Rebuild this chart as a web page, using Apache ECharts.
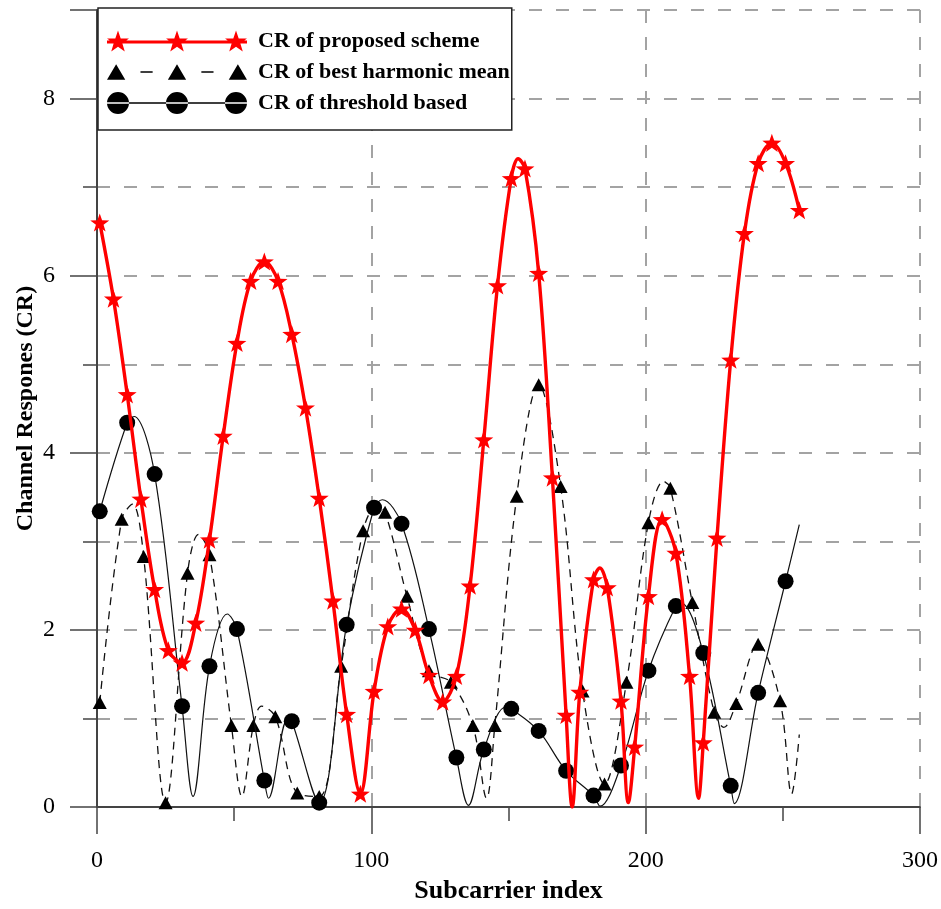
<!DOCTYPE html>
<html>
<head>
<meta charset="utf-8">
<title>Channel response</title>
<script src="https://cdn.jsdelivr.net/npm/echarts@6/dist/echarts.min.js"></script>
<style>
  html, body { margin: 0; padding: 0; background: #fff; }
  #chart { width: 941px; height: 909px; }
</style>
</head>
<body>
<div id="chart"></div>
<script>
// CR of proposed scheme: star markers, plus the bends between them
const proposedX = [1, 6, 11, 16, 21, 26, 31, 36, 41, 46, 51, 56, 61, 66, 71, 76, 81, 86, 91, 96,
  101, 106, 111, 116, 121, 126, 131, 136, 141, 146, 151, 156, 161, 166, 171, 176, 181, 186, 191, 196,
  201, 206, 211, 216, 221, 226, 231, 236, 241, 246, 251, 256];
const proposedY = [6.60, 5.74, 4.66, 3.48, 2.46, 1.77, 1.63, 2.08, 3.02, 4.19, 5.24, 5.94, 6.16, 5.94, 5.34, 4.51, 3.49, 2.33, 1.05, 0.15,
  1.31, 2.04, 2.24, 2.00, 1.49, 1.19, 1.48, 2.50, 4.15, 5.89, 7.10, 7.21, 6.03, 3.72, 1.04, 1.30, 2.57, 2.48, 1.20, 0.68,
  2.38, 3.25, 2.87, 1.48, 0.73, 3.04, 5.05, 6.48, 7.27, 7.50, 7.27, 6.74];
const proposedBendX = [153.5, 173.2, 183.3, 193.7, 219.3];
const proposedBendY = [7.32, 0.0, 2.70, 0.05, 0.10];

// CR of best harmonic mean: triangle markers
const harmonicX = [1, 9, 17, 25, 33, 41, 49, 57, 65, 73, 81, 89, 97, 105, 113, 121, 129, 137, 145, 153,
  161, 169, 177, 185, 193, 201, 209, 217, 225, 233, 241, 249];
const harmonicY = [1.18, 3.25, 2.83, 0.05, 2.64, 2.85, 0.92, 0.92, 1.02, 0.16, 0.12, 1.59, 3.12, 3.33, 2.38, 1.54, 1.41, 0.92, 0.92, 3.51,
  4.77, 3.62, 1.31, 0.26, 1.41, 3.21, 3.60, 2.31, 1.07, 1.17, 1.84, 1.20];
const harmonicBendX = [13, 37, 52.8, 60, 102, 142, 206.5, 228.5, 253.2, 256];
const harmonicBendY = [3.42, 3.08, 0.12, 1.14, 3.40, 0.10, 3.68, 0.90, 0.15, 0.82];

// CR of threshold based: circle markers
const thresholdX = [1, 11, 21, 31, 41, 51, 61, 71, 81, 91, 101, 111, 121, 131, 141, 151, 161, 171, 181, 191,
  201, 211, 221, 231, 241, 251];
const thresholdY = [3.34, 4.34, 3.76, 1.14, 1.59, 2.01, 0.30, 0.97, 0.05, 2.06, 3.38, 3.20, 2.01, 0.56, 0.65, 1.11, 0.86, 0.41, 0.13, 0.47,
  1.54, 2.27, 1.74, 0.24, 1.29, 2.55];
const thresholdBendX = [13.5, 35, 47.5, 62.5, 69.5, 104, 135.4, 149, 183.4, 213, 232.3, 256];
const thresholdBendY = [4.41, 0.12, 2.18, 0.10, 1.00, 3.47, 0.02, 1.13, 0.01, 2.30, 0.04, 3.19];

const seriesNames = ['CR of proposed scheme', 'CR of best harmonic mean', 'CR of threshold based'];
const xTicks = { min: 0, max: 300, step: 100 };
const yTicks = { min: 0, max: 9, step: 2 };

(function() {
  const SERIF = 'Liberation Serif, Times New Roman, serif';
  const GRID_LINE = { color: '#a3a3a3', width: 2, type: [13, 14] };
  const AXIS_COLOR = '#444';

  function starPath(cx, cy, R, r) {
    let d = '';
    for (let k = 0; k < 10; k++) {
      const rad = k % 2 ? r : R;
      const a = -Math.PI / 2 + k * Math.PI / 5;
      d += (k ? 'L' : 'M') + (cx + rad * Math.cos(a)).toFixed(2) + ' ' + (cy + rad * Math.sin(a)).toFixed(2);
    }
    return d + 'Z';
  }

  function trianglePath(cx, cy, s) {
    const h = s * 0.85;
    return 'M' + (cx - s / 2) + ' ' + (cy + h / 2) + 'L' + (cx + s / 2) + ' ' + (cy + h / 2) +
      'L' + cx + ' ' + (cy - h / 2) + 'Z';
  }

  function circlePath(cx, cy, r) {
    return 'M' + (cx - r) + ' ' + cy + 'A' + r + ' ' + r + ' 0 1 0 ' + (cx + r) + ' ' + cy +
      'A' + r + ' ' + r + ' 0 1 0 ' + (cx - r) + ' ' + cy + 'Z';
  }

  const STAR = 'path://' + starPath(10, 10, 10, 4);

  const legendIcons = [
    'path://M0 10.5L140 10.5L140 13.5L0 13.5Z' + starPath(11, 12, 11.5, 4.6) + starPath(70, 12, 11.5, 4.6) + starPath(129, 12, 11.5, 4.6),
    'path://' + trianglePath(10, 12, 18) + 'M34 11.2L46 11.2L46 12.8L34 12.8Z' + trianglePath(70, 12, 18) +
      'M94 11.2L106 11.2L106 12.8L94 12.8Z' + trianglePath(130, 12, 18),
    'path://M0 11.3L140 11.3L140 12.7L0 12.7Z' + circlePath(11, 12, 11) + circlePath(70, 12, 11) + circlePath(129, 12, 11)
  ];

  function buildPoints(markX, markY, bendX, bendY) {
    const pts = markX.map((x, i) => ({ value: [x, markY[i]] }));
    bendX.forEach((x, i) => pts.push({ value: [x, bendY[i]], symbol: 'none' }));
    return pts.sort((a, b) => a.value[0] - b.value[0]);
  }

  class ChannelResponseChart {
    constructor(selector) {
      this.container = document.querySelector(selector);
      if (!this.container) {
        console.error(`container "${selector}" not found`);
        return;
      }
      this.chart = echarts.init(this.container, null, { renderer: 'canvas' });
      this.initChart();
      this.bindEvents();
    }

    get baseOption() {
      return {
        animation: false,
        backgroundColor: '#fff',
        grid: { left: 97, right: 21, top: 10, bottom: 101 },
        legend: {
          data: seriesNames.map((name, i) => ({ name, icon: legendIcons[i] })),
          orient: 'vertical',
          left: 98,
          top: 8,
          itemWidth: 140,
          itemHeight: 24,
          itemGap: 9,
          padding: [22, 2, 16, 9],
          backgroundColor: '#fff',
          borderColor: '#222',
          borderWidth: 1.5,
          borderRadius: 0,
          selectedMode: false,
          itemStyle: { borderWidth: 0 },
          textStyle: {
            fontFamily: SERIF,
            fontWeight: 'bold',
            fontSize: 22,
            color: '#000',
            padding: [0, 0, 0, 6]
          }
        },
        xAxis: {
          type: 'value',
          min: xTicks.min,
          max: xTicks.max,
          interval: xTicks.step,
          name: 'Subcarrier index',
          nameLocation: 'middle',
          nameGap: 63,
          nameTextStyle: { fontFamily: SERIF, fontWeight: 'bold', fontSize: 26, color: '#000' },
          axisLine: { lineStyle: { color: AXIS_COLOR, width: 2 } },
          axisTick: { length: 27, lineStyle: { color: AXIS_COLOR, width: 1.5 } },
          minorTick: { show: true, splitNumber: 2, length: 14, lineStyle: { color: AXIS_COLOR, width: 1.5 } },
          axisLabel: { margin: 42, fontFamily: SERIF, fontSize: 24, color: '#000' },
          splitLine: { show: true, lineStyle: GRID_LINE }
        },
        yAxis: [
          {
            type: 'value',
            position: 'left',
            min: yTicks.min,
            max: yTicks.max,
            interval: 1,
            name: 'Channel Respones (CR)',
            nameLocation: 'middle',
            nameGap: 59,
            nameTextStyle: { fontFamily: SERIF, fontWeight: 'bold', fontSize: 24, color: '#000' },
            axisLine: { show: true, lineStyle: { color: AXIS_COLOR, width: 2 } },
            axisTick: { show: true, length: 14, lineStyle: { color: AXIS_COLOR, width: 1.5 } },
            axisLabel: { show: false },
            splitLine: { show: true, lineStyle: GRID_LINE }
          },
          {
            type: 'value',
            position: 'left',
            min: yTicks.min,
            max: yTicks.max,
            interval: yTicks.step,
            axisLine: { show: false },
            axisTick: { show: true, length: 27, lineStyle: { color: AXIS_COLOR, width: 1.5 } },
            axisLabel: {
              margin: 42,
              fontFamily: SERIF,
              fontSize: 24,
              color: '#000',
              formatter: v => (v === yTicks.max ? '' : String(v))
            },
            splitLine: { show: false }
          }
        ],
        series: [
          {
            name: seriesNames[0],
            type: 'line',
            z: 5,
            smooth: 0.35,
            symbol: STAR,
            symbolSize: 19,
            symbolKeepAspect: true,
            showAllSymbol: true,
            itemStyle: { color: '#ff0000', borderWidth: 0 },
            lineStyle: { color: '#ff0000', width: 3.4 },
            emphasis: { disabled: true },
            data: buildPoints(proposedX, proposedY, proposedBendX, proposedBendY)
          },
          {
            name: seriesNames[1],
            type: 'line',
            z: 3,
            smooth: 0.35,
            symbol: 'triangle',
            symbolSize: [14, 13],
            showAllSymbol: true,
            itemStyle: { color: '#000', borderWidth: 0 },
            lineStyle: { color: '#111', width: 1.3, type: [8, 6] },
            emphasis: { disabled: true },
            data: buildPoints(harmonicX, harmonicY, harmonicBendX, harmonicBendY)
          },
          {
            name: seriesNames[2],
            type: 'line',
            z: 4,
            smooth: 0.35,
            symbol: 'circle',
            symbolSize: 16,
            showAllSymbol: true,
            itemStyle: { color: '#000', borderWidth: 0 },
            lineStyle: { color: '#111', width: 1.2 },
            emphasis: { disabled: true },
            data: buildPoints(thresholdX, thresholdY, thresholdBendX, thresholdBendY)
          }
        ]
      };
    }

    initChart() {
      this.chart.setOption(this.baseOption);
    }

    bindEvents() {
      window.addEventListener('resize', () => this.chart.resize());
    }
  }

  document.addEventListener('DOMContentLoaded', () => {
    new ChannelResponseChart('#chart');
  });
})();
</script>
</body>
</html>
